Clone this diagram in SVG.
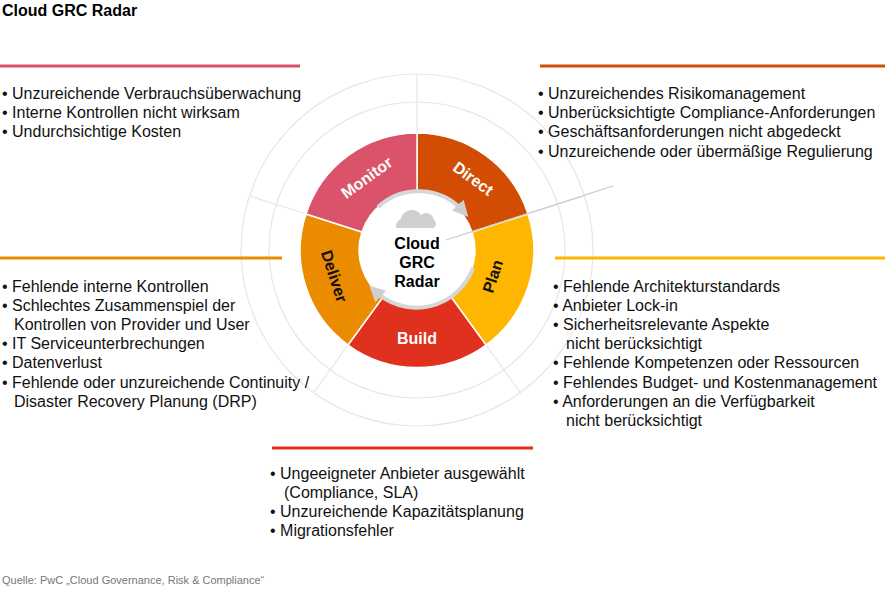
<svg xmlns="http://www.w3.org/2000/svg" width="885" height="589" viewBox="0 0 885 589">
<style>
text{font-family:"Liberation Sans",Arial,sans-serif}
.t{font-size:16px;fill:#111}
.seg{font-size:16px;font-weight:bold;fill:#fff;text-anchor:middle}
.grid{fill:none;stroke:#e6e6e6;stroke-width:1.2}
</style>
<defs><marker id="ah" viewBox="0 0 10 10" refX="5" refY="5" markerWidth="4" markerHeight="4" orient="auto"><path d="M0,0L10,5L0,10z" fill="#cfcfcf"/></marker></defs>
<rect width="885" height="589" fill="#fff"/>
<text x="2" y="16" style="font-size:16px;font-weight:bold">Cloud GRC Radar</text>
<g id="grid">
<circle class="grid" cx="417" cy="250" r="148"/>
<circle class="grid" cx="417" cy="250" r="176"/>
<line class="grid" x1="417" y1="74" x2="417" y2="133"/>
<line class="grid" x1="528" y1="214" x2="584" y2="196"/>
<line class="grid" x1="486" y1="345" x2="520" y2="392"/>
<line class="grid" x1="348" y1="345" x2="314" y2="392"/>
<line class="grid" x1="306" y1="214" x2="250" y2="196"/>
</g>
<g id="ring">
<path d="M417,133 A117,117 0 0 1 528,214 L472,232 A58,58 0 0 0 417,192Z" fill="#d24c04" stroke="#fff" stroke-width="1.5"/>
<path d="M528,214 A117,117 0 0 1 486,345 L451,297 A58,58 0 0 0 472,232Z" fill="#ffb600" stroke="#fff" stroke-width="1.5"/>
<path d="M486,345 A117,117 0 0 1 348,345 L383,297 A58,58 0 0 0 451,297Z" fill="#e0301e" stroke="#fff" stroke-width="1.5"/>
<path d="M348,345 A117,117 0 0 1 306,214 L362,232 A58,58 0 0 0 383,297Z" fill="#eb8c00" stroke="#fff" stroke-width="1.5"/>
<path d="M306,214 A117,117 0 0 1 417,133 L417,192 A58,58 0 0 0 362,232Z" fill="#db536a" stroke="#fff" stroke-width="1.5"/>
</g>
<g id="arrows">
<path d="M378,207 A60,60 0 0 1 463,211" fill="none" stroke="#d6d6d6" stroke-width="4" marker-end="url(#ah)"/>
<path d="M473,268 A60,60 0 0 1 375,291" fill="none" stroke="#d6d6d6" stroke-width="4" marker-end="url(#ah)"/>
<line x1="446" y1="240" x2="613" y2="186" stroke="#c8c8c8" stroke-width="1.2"/>
</g>
<g id="center">
<path d="M396,228 a8,8 0 0 1 5,-9 a11,11 0 0 1 20,-4 a8,8 0 0 1 13,5 a5,5 0 0 1 0,8z" fill="#cfcfcf"/>
<text x="417" y="249" text-anchor="middle" style="font-size:16px;font-weight:bold">Cloud</text>
<text x="417" y="268" text-anchor="middle" style="font-size:16px;font-weight:bold">GRC</text>
<text x="417" y="287" text-anchor="middle" style="font-size:16px;font-weight:bold">Radar</text>
</g>
<g id="labels">
<text class="seg" transform="translate(370,182) rotate(-36)">Monitor</text>
<text class="seg" transform="translate(470,183) rotate(36)">Direct</text>
<text class="seg" style="fill:#111" transform="translate(498,278) rotate(-72)">Plan</text>
<text class="seg" x="417" y="344">Build</text>
<text class="seg" style="fill:#111" transform="translate(329,278) rotate(72)">Deliver</text>
</g>
<g id="monitor-list">
<line x1="0" y1="66" x2="300" y2="66" stroke="#db536a" stroke-width="3"/>
<text class="t" x="2" y="99">• Unzureichende Verbrauchsüberwachung</text>
<text class="t" x="2" y="118">• Interne Kontrollen nicht wirksam</text>
<text class="t" x="2" y="137">• Undurchsichtige Kosten</text>
</g>
<g id="direct-list">
<line x1="540" y1="66" x2="885" y2="66" stroke="#d24c04" stroke-width="3"/>
<text class="t" x="538" y="99">• Unzureichendes Risikomanagement</text>
<text class="t" x="538" y="118">• Unberücksichtigte Compliance-Anforderungen</text>
<text class="t" x="538" y="137">• Geschäftsanforderungen nicht abgedeckt</text>
<text class="t" x="538" y="157">• Unzureichende oder übermäßige Regulierung</text>
</g>
<g id="deliver-list">
<line x1="0" y1="258" x2="282" y2="258" stroke="#eb8c00" stroke-width="3"/>
<text class="t" x="2" y="292">• Fehlende interne Kontrollen</text>
<text class="t" x="2" y="311">• Schlechtes Zusammenspiel der</text>
<text class="t" x="14" y="330">Kontrollen von Provider und User</text>
<text class="t" x="2" y="349">• IT Serviceunterbrechungen</text>
<text class="t" x="2" y="368">• Datenverlust</text>
<text class="t" x="2" y="388">• Fehlende oder unzureichende Continuity /</text>
<text class="t" x="14" y="407">Disaster Recovery Planung (DRP)</text>
</g>
<g id="plan-list">
<line x1="555" y1="258" x2="885" y2="258" stroke="#ffb600" stroke-width="3"/>
<text class="t" x="553" y="292">• Fehlende Architekturstandards</text>
<text class="t" x="553" y="311">• Anbieter Lock-in</text>
<text class="t" x="553" y="330">• Sicherheitsrelevante Aspekte</text>
<text class="t" x="566" y="349">nicht berücksichtigt</text>
<text class="t" x="553" y="368">• Fehlende Kompetenzen oder Ressourcen</text>
<text class="t" x="553" y="388">• Fehlendes Budget- und Kostenmanagement</text>
<text class="t" x="553" y="407">• Anforderungen an die Verfügbarkeit</text>
<text class="t" x="566" y="426">nicht berücksichtigt</text>
</g>
<g id="build-list">
<line x1="272" y1="448" x2="533" y2="448" stroke="#e0301e" stroke-width="3"/>
<text class="t" x="270" y="479">• Ungeeigneter Anbieter ausgewählt</text>
<text class="t" x="284" y="498">(Compliance, SLA)</text>
<text class="t" x="270" y="517">• Unzureichende Kapazitätsplanung</text>
<text class="t" x="270" y="536">• Migrationsfehler</text>
</g>
<text x="2" y="584" style="font-size:11px;fill:#777">Quelle: PwC „Cloud Governance, Risk &amp; Compliance“</text>
</svg>
